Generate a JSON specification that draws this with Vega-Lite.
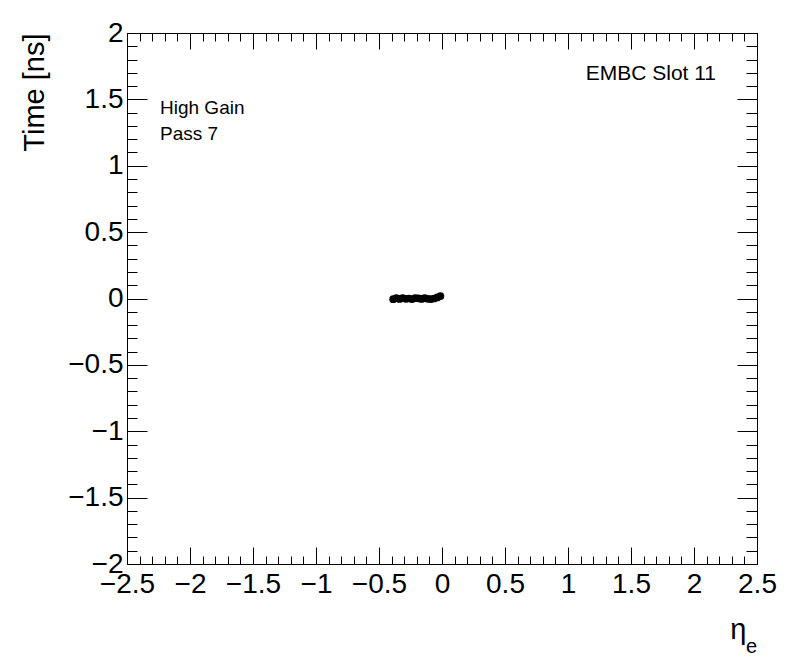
{
  "$schema": "https://vega.github.io/schema/vega-lite/v6.json",
  "width": 630,
  "height": 531,
  "autosize": {"type": "none"},
  "padding": {"left": 127, "top": 33, "right": 39, "bottom": 108},
  "background": "white",
  "config": {
    "view": {"stroke": "black", "strokeWidth": 1},
    "font": "Liberation Sans",
    "axis": {
      "grid": false,
      "domainColor": "black",
      "tickColor": "black",
      "labelColor": "black",
      "titleColor": "black",
      "labelFont": "Liberation Sans",
      "titleFont": "Liberation Sans",
      "labelFontSize": 28,
      "titleFontSize": 29,
      "titleFontWeight": "normal",
      "labelFlush": false,
      "labelOverlap": false,
      "tickWidth": 1
    }
  },
  "data": {
    "values": [
      {"eta": -0.3875, "time": -0.005},
      {"eta": -0.3625, "time": 0.002},
      {"eta": -0.3375, "time": -0.003},
      {"eta": -0.3125, "time": 0.003},
      {"eta": -0.2875, "time": -0.002},
      {"eta": -0.2625, "time": 0.0},
      {"eta": -0.2375, "time": -0.004},
      {"eta": -0.2125, "time": 0.002},
      {"eta": -0.1875, "time": 0.001},
      {"eta": -0.1625, "time": -0.003},
      {"eta": -0.1375, "time": 0.003},
      {"eta": -0.1125, "time": -0.002},
      {"eta": -0.0875, "time": -0.004},
      {"eta": -0.0625, "time": 0.0},
      {"eta": -0.0375, "time": 0.008},
      {"eta": -0.0125, "time": 0.018}
    ]
  },
  "layer": [
    {
      "mark": {"type": "point", "filled": true, "color": "black", "opacity": 1, "size": 60},
      "encoding": {
        "x": {
          "field": "eta", "type": "quantitative",
          "scale": {"domain": [-2.5, 2.5], "nice": false, "zero": false},
          "axis": {
            "orient": "bottom",
            "title": "η",
            "titleAnchor": "end",
            "titleAlign": "right",
            "titleBaseline": "alphabetic",
            "titleX": 619,
            "titleY": 74,
            "values": [-2.5,-2.4,-2.3,-2.2,-2.1,-2,-1.9,-1.8,-1.7,-1.6,-1.5,-1.4,-1.3,-1.2,-1.1,-1,-0.9,-0.8,-0.7,-0.6,-0.5,-0.4,-0.3,-0.2,-0.1,0,0.1,0.2,0.3,0.4,0.5,0.6,0.7,0.8,0.9,1,1.1,1.2,1.3,1.4,1.5,1.6,1.7,1.8,1.9,2,2.1,2.2,2.3,2.4,2.5],
            "labelExpr": "abs(datum.value*2 - round(datum.value*2)) < 0.001 ? replace(format(datum.value, '~g'), '-', '−') : ''",
            "tickSize": {"condition": {"test": "abs(datum.value*2 - round(datum.value*2)) < 0.001", "value": -17}, "value": -8},
            "labelPadding": 23,
            "labelBaseline": "top"
          }
        },
        "y": {
          "field": "time", "type": "quantitative",
          "scale": {"domain": [-2, 2], "nice": false, "zero": false},
          "axis": {
            "orient": "left",
            "title": "Time [ns]",
            "titleAnchor": "end",
            "titleAlign": "right",
            "titleBaseline": "alphabetic",
            "titleAngle": -90,
            "titleX": -84,
            "titleY": 0,
            "values": [-2,-1.9,-1.8,-1.7,-1.6,-1.5,-1.4,-1.3,-1.2,-1.1,-1,-0.9,-0.8,-0.7,-0.6,-0.5,-0.4,-0.3,-0.2,-0.1,0,0.1,0.2,0.3,0.4,0.5,0.6,0.7,0.8,0.9,1,1.1,1.2,1.3,1.4,1.5,1.6,1.7,1.8,1.9,2],
            "labelExpr": "abs(datum.value*2 - round(datum.value*2)) < 0.001 ? replace(format(datum.value, '~g'), '-', '−') : ''",
            "tickSize": {"condition": {"test": "abs(datum.value*2 - round(datum.value*2)) < 0.001", "value": -20}, "value": -10},
            "labelPadding": 24,
            "labelBaseline": "middle"
          }
        }
      }
    },
    {
      "mark": {"type": "point", "opacity": 0},
      "encoding": {
        "x": {
          "field": "eta", "type": "quantitative",
          "axis": {
            "orient": "top",
            "title": null,
            "labels": false,
            "values": [-2.5,-2.4,-2.3,-2.2,-2.1,-2,-1.9,-1.8,-1.7,-1.6,-1.5,-1.4,-1.3,-1.2,-1.1,-1,-0.9,-0.8,-0.7,-0.6,-0.5,-0.4,-0.3,-0.2,-0.1,0,0.1,0.2,0.3,0.4,0.5,0.6,0.7,0.8,0.9,1,1.1,1.2,1.3,1.4,1.5,1.6,1.7,1.8,1.9,2,2.1,2.2,2.3,2.4,2.5],
            "tickSize": {"condition": {"test": "abs(datum.value*2 - round(datum.value*2)) < 0.001", "value": -16}, "value": -8}
          }
        },
        "y": {
          "field": "time", "type": "quantitative",
          "axis": {
            "orient": "right",
            "title": null,
            "labels": false,
            "values": [-2,-1.9,-1.8,-1.7,-1.6,-1.5,-1.4,-1.3,-1.2,-1.1,-1,-0.9,-0.8,-0.7,-0.6,-0.5,-0.4,-0.3,-0.2,-0.1,0,0.1,0.2,0.3,0.4,0.5,0.6,0.7,0.8,0.9,1,1.1,1.2,1.3,1.4,1.5,1.6,1.7,1.8,1.9,2],
            "tickSize": {"condition": {"test": "abs(datum.value*2 - round(datum.value*2)) < 0.001", "value": -20}, "value": -11}
          }
        }
      }
    },
    {
      "data": {"values": [{"label": "High Gain"}]},
      "mark": {"type": "text", "align": "left", "baseline": "alphabetic", "fontSize": 19, "font": "Liberation Sans", "color": "black"},
      "encoding": {
        "x": {"datum": -2.238, "type": "quantitative", "axis": null},
        "y": {"datum": 1.39, "type": "quantitative", "axis": null},
        "text": {"field": "label"}
      }
    },
    {
      "data": {"values": [{"label": "Pass 7"}]},
      "mark": {"type": "text", "align": "left", "baseline": "alphabetic", "fontSize": 19, "font": "Liberation Sans", "color": "black"},
      "encoding": {
        "x": {"datum": -2.238, "type": "quantitative", "axis": null},
        "y": {"datum": 1.194, "type": "quantitative", "axis": null},
        "text": {"field": "label"}
      }
    },
    {
      "data": {"values": [{"label": "EMBC Slot 11"}]},
      "mark": {"type": "text", "align": "right", "baseline": "alphabetic", "fontSize": 21, "font": "Liberation Sans", "color": "black"},
      "encoding": {
        "x": {"datum": 2.175, "type": "quantitative", "axis": null},
        "y": {"datum": 1.646, "type": "quantitative", "axis": null},
        "text": {"field": "label"}
      }
    },
    {
      "data": {"values": [{"label": "e"}]},
      "mark": {"type": "text", "align": "right", "baseline": "alphabetic", "fontSize": 20, "font": "Liberation Sans", "color": "black"},
      "encoding": {
        "x": {"datum": 2.5, "type": "quantitative", "axis": null},
        "y": {"datum": -2.67, "type": "quantitative", "axis": null},
        "text": {"field": "label"}
      }
    }
  ]
}
